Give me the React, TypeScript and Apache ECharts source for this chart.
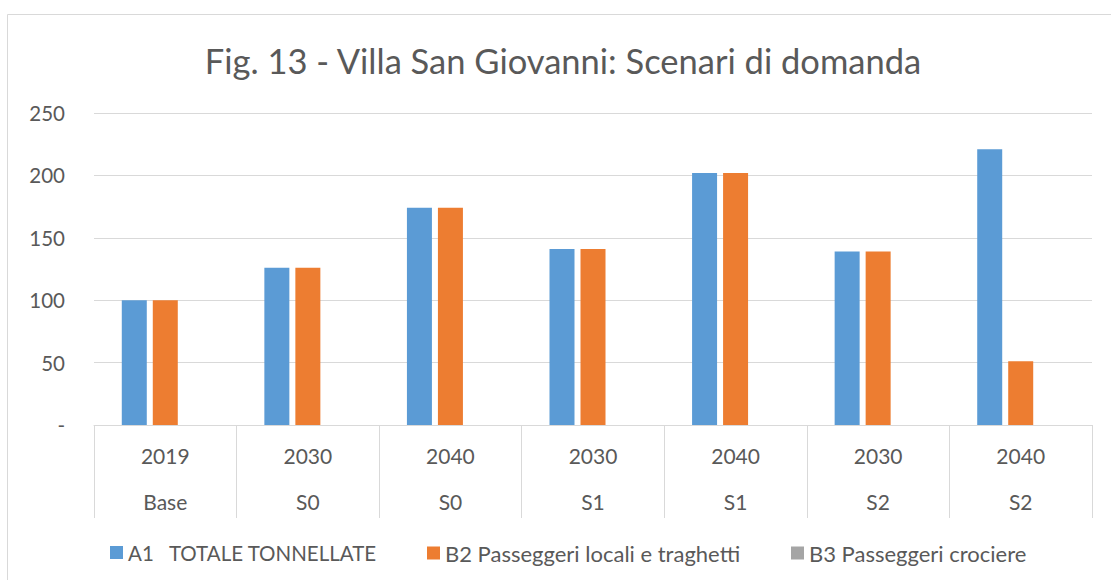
import React, { useEffect, useRef } from "react";
import * as echarts from "echarts";

const years = ["2019", "2030", "2040", "2030", "2040", "2030", "2040"];
const scenarios = ["Base", "S0", "S0", "S1", "S1", "S2", "S2"];
const seriesNames = [
  "A1   TOTALE TONNELLATE",
  "B2 Passeggeri locali e traghetti",
  "B3 Passeggeri crociere",
];
const a1Values = [100, 126, 174, 141, 202, 139, 221];
const b2Values = [100, 126, 174, 141, 202, 139, 51];
const b3Values = [0, 0, 0, 0, 0, 0, 0];
const colors = ["#5B9BD5", "#ED7D31", "#A5A5A5"];
const titleText = "Fig. 13 - Villa San Giovanni: Scenari di domanda";

const FONT = "Lato, 'Open Sans', sans-serif";
const TXT = "#595959";
const GRID = "#d9d9d9";

const legendLefts = [110, 427, 791];
const legendFontSizes = [20.5, 22, 22];

export default function App() {
  const ref = useRef<HTMLDivElement>(null);
  useEffect(() => {
    if (!ref.current) return;
    const chart = echarts.init(ref.current, null, { renderer: "svg" });
    const categories = years.map((y, i) => y + "|" + scenarios[i]);
    const allSeries = [a1Values, b2Values, b3Values];
    chart.setOption({
      animation: false,
      textStyle: { fontFamily: FONT },
      graphic: [
        {
          type: "rect",
          shape: { x: 7.5, y: 14.5, width: 1200, height: 700 },
          style: { fill: "none", stroke: GRID, lineWidth: 1 },
          silent: true,
        },
        {
          type: "text",
          x: 563,
          y: 60,
          style: {
            text: titleText,
            fontSize: 34.5,
            fontFamily: FONT,
            fill: TXT,
            textAlign: "center",
            textVerticalAlign: "middle",
          },
        },
      ],
      grid: { left: 94, right: 19, top: 113, bottom: 155, containLabel: false },
      legend: seriesNames.map((name, i) => ({
        left: legendLefts[i],
        top: 542,
        padding: 0,
        itemWidth: 13,
        itemHeight: 13,
        itemGap: 5,
        icon: "rect",
        textStyle: { fontSize: legendFontSizes[i], color: TXT, fontFamily: FONT },
        data: [name],
      })),
      xAxis: {
        type: "category",
        data: categories,
        axisLine: { lineStyle: { color: GRID, width: 1 } },
        axisTick: { show: true, length: 93, interval: 0, lineStyle: { color: GRID, width: 1 } },
        axisLabel: {
          interval: 0,
          margin: 7,
          formatter: (v: string) => {
            const [y, s] = v.split("|");
            return "{a|" + y + "}\n{a|" + s + "}";
          },
          rich: {
            a: { fontSize: 21, color: TXT, fontFamily: FONT, lineHeight: 46 },
          },
        },
      },
      yAxis: {
        type: "value",
        min: 0,
        max: 250,
        interval: 50,
        axisLine: { show: false },
        axisTick: { show: false },
        splitLine: { lineStyle: { color: GRID, width: 1 } },
        axisLabel: {
          fontSize: 20.5,
          color: TXT,
          fontFamily: FONT,
          margin: 29,
          formatter: (v: number) => (v === 0 ? "-" : String(v)),
        },
      },
      series: seriesNames.map((name, i) => ({
        name,
        type: "bar",
        data: allSeries[i],
        barWidth: 25,
        barGap: "24%",
        itemStyle: { color: colors[i] },
      })),
    });
    return () => chart.dispose();
  }, []);
  return (
    <div
      ref={ref}
      style={{ position: "fixed", left: 0, top: 0, width: 1111, height: 580, background: "#fff" }}
    />
  );
}
